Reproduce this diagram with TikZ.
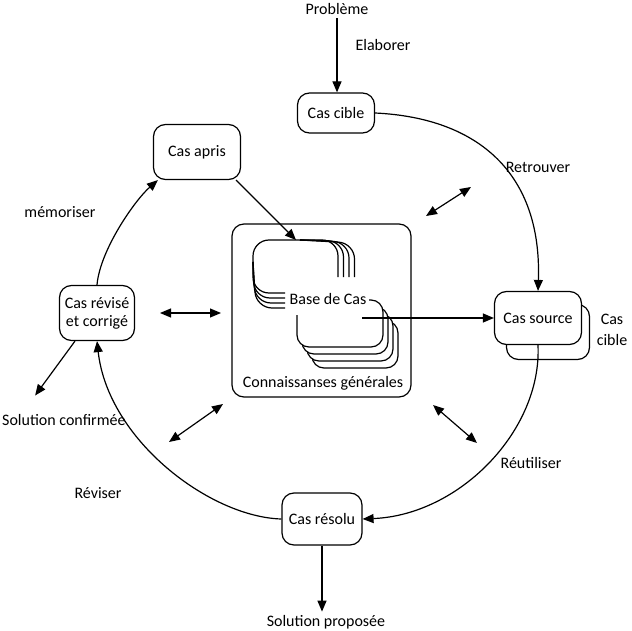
\documentclass[tikz,border=0pt]{standalone}
\usepackage{fontspec}
\setmainfont{Carlito}
\usetikzlibrary{arrows.meta}

\tikzset{
	casbox/.style={draw, rounded corners=12pt, line width=1.2pt, fill=white, align=center},
	flow/.style={-{Triangle[length=11pt,width=9pt]}, line width=1.2pt},
	dbl/.style={{Triangle[length=11pt,width=9pt]}-{Triangle[length=11pt,width=9pt]}, line width=1.2pt},
	stackln/.style={line width=1.2pt, rounded corners=16pt},
}

\begin{document}
\begin{tikzpicture}[x=1pt,y=1pt,font=\fontsize{16}{18}\selectfont]
			\useasboundingbox (0,0) rectangle (632,-631);
			% connaissances
			\node	(kb) at (321.5,-310.5) [draw, rounded corners=12pt, line width=1.2pt, minimum width=179pt, minimum height=173pt] {};
			\draw[stackln] (300,-240) -- (253,-240) -- (253,-262);
			\foreach \i in {0,...,3}{
				\draw[stackln] (300,-240) -- (338+5.5*\i,-240-\i) -- (338+5.5*\i,-277);
				\draw[stackln] (253,-262) -- (253+\i,-293-5*\i) -- (285,-293-5*\i);
			}
			\foreach \i in {3,2,1,0}{
				\draw[stackln, rounded corners=12pt, fill=white] (297+5*\i,-315-7*\i) -- (297+5*\i,-347-7*\i) -- (383+5*\i,-347-7*\i) -- (383+5*\i,-300-7*\i) -- (369+5*\i,-300-7*\i);
			}
			\node	(base) at (328,-299) {Base de Cas};
			\node	(gen) at (323,-383) {Connaissanses générales};
			\coordinate (stacktop) at (296,-240);
			\coordinate (stackout) at (362,-318);
			
			% cas
			\node	(prob) at (337,-9) {Problème};
			\node	(cible) at (336,-113) [casbox, minimum width=77pt, minimum height=40pt] {Cas cible};
			\node	(apris) at (197,-152) [casbox, minimum width=87pt, minimum height=55pt] {Cas apris};
			\node	(sourceb) at (548,-332) [casbox, minimum width=83pt, minimum height=55pt] {};
			\node	(source) at (538,-318) [casbox, minimum width=87pt, minimum height=53pt] {Cas source};
			\node	(cible2) at (612,-330) [align=center, font=\fontsize{16}{21}\selectfont] {Cas\\cible};
			\node	(resolu) at (322,-519) [casbox, minimum width=80pt, minimum height=52pt] {Cas résolu};
			\node	(revise) at (97,-313) [casbox, minimum width=75pt, minimum height=55pt, inner sep=2pt, font=\fontsize{16}{18}\selectfont] {Cas révisé\\et corrigé};
			\node	(propose) at (326,-622) {Solution proposée};
			\node	(confirm) at (1,-420) [anchor=west, inner xsep=1pt] {Solution confirmée};
			
			% etapes
			\node	(elab) at (383,-45) {Elaborer};
			\node	(retr) at (538,-167) {Retrouver};
			\node	(reut) at (531,-463) {Réutiliser};
			\node	(revi) at (98,-493) {Réviser};
			\node	(memo) at (60,-212) {mémoriser};
			
			\draw[flow] (cible.east) .. controls (480,-118) and (542,-175) .. (source.north);
			\draw[flow] (source.south) .. controls (542,-430) and (460,-515) .. (resolu.east);
			\draw[flow] (resolu.west) .. controls (210,-517) and (108,-440) .. (revise.south);
			\draw[flow] (revise.north) .. controls (100,-250) and (135,-200) .. ([xshift=5pt]apris.south west);
			
			\draw 
			(prob.south) edge[flow] (prob.south |- cible.north)
			(resolu.south) edge[flow] (resolu.south |- propose.north)
			([xshift=-22pt]revise.south) edge[flow, shorten >=19pt] ([xshift=-40pt]confirm.north)
			([xshift=-5pt]apris.south east) edge[flow] (stacktop)
			(stackout) edge[flow] (source.west)
			;
			
			% echanges
			\coordinate (d1a) at (426,-216);
			\coordinate (d1b) at (471,-187);
			\coordinate (d2a) at (160,-313);
			\coordinate (d2b) at (221,-313);
			\coordinate (d3a) at (169,-442);
			\coordinate (d3b) at (223,-404);
			\coordinate (d4a) at (433,-405);
			\coordinate (d4b) at (477,-443);
			\draw 
			(d1a) edge[dbl] (d1b)
			(d2a) edge[dbl] (d2b)
			(d3a) edge[dbl] (d3b)
			(d4a) edge[dbl] (d4b)
			;
		\end{tikzpicture}
\end{document}
